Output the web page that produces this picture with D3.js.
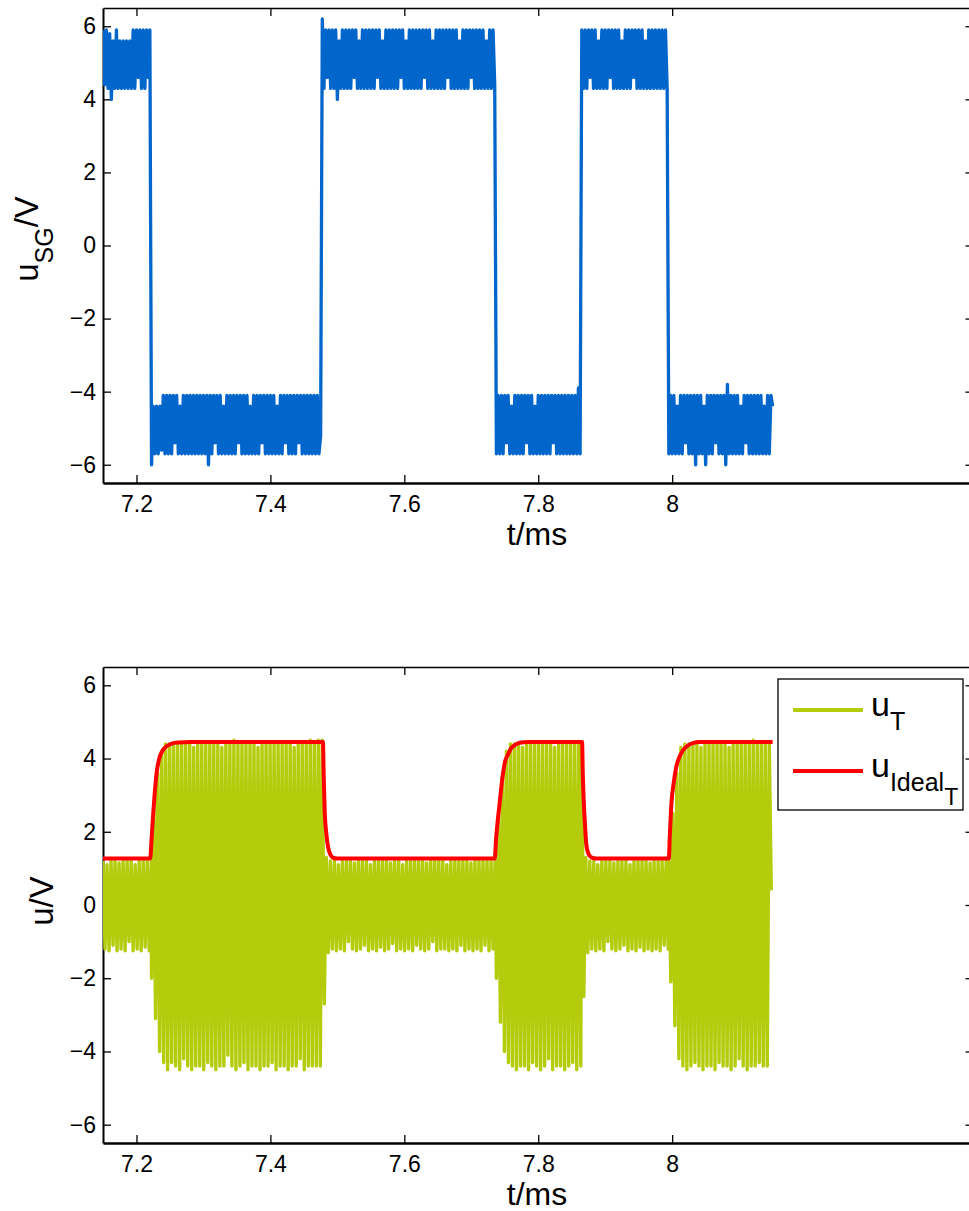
<!DOCTYPE html>
<html>
<head>
<meta charset="utf-8">
<script src="https://cdn.jsdelivr.net/npm/d3@7"></script>
<style>
  body { margin: 0; background: #fff; }
  svg { display: block; font-family: "Liberation Sans", Arial, Helvetica, sans-serif; }
</style>
</head>
<body>
<svg id="chart" width="969" height="1211"></svg>
<script>
// ---- data ----
const xTicks = [7.2, 7.4, 7.6, 7.8, 8];
const yTicks = [-6, -4, -2, 0, 2, 4, 6];

// u_SG: one array per switching state, samples every 2.5 us from each start time
const usgStart = [7.15, 7.2225, 7.4775, 7.7375, 7.865, 7.995];
const usgDt = 0.0025;
const usgHigh1 = [5.9,4.4,5.9,4.3,5.8,4.0,5.6,4.3,5.9,4.3,
  5.6,4.3,5.6,4.3,5.6,4.3,5.6,4.3,5.9,4.3,
  5.9,4.6,5.9,4.3,5.9,4.3,5.9,4.6,5.9];
const usgLow1 = [-6.0,-4.4,-5.7,-4.4,-5.7,-4.4,-5.6,-4.1,-5.7,-4.1,
  -5.7,-4.1,-5.7,-4.1,-5.4,-4.1,-5.7,-4.4,-5.7,-4.1,
  -5.7,-4.1,-5.7,-4.1,-5.7,-4.1,-5.7,-4.1,-5.7,-4.1,
  -5.7,-4.1,-5.7,-4.1,-6.0,-4.1,-5.7,-4.1,-5.4,-4.1,
  -5.7,-4.1,-5.7,-4.4,-5.7,-4.1,-5.7,-4.1,-5.7,-4.1,
  -5.7,-4.1,-5.4,-4.1,-5.7,-4.1,-5.7,-4.1,-5.7,-4.4,
  -5.7,-4.1,-5.7,-4.1,-5.7,-4.1,-5.4,-4.1,-5.7,-4.1,
  -5.7,-4.1,-5.7,-4.1,-5.7,-4.4,-5.7,-4.1,-5.7,-4.1,
  -5.4,-4.1,-5.7,-4.1,-5.7,-4.1,-5.7,-4.1,-5.4,-4.1,
  -5.7,-4.1,-5.7,-4.1,-5.7,-4.1,-5.7,-4.1,-5.7,-4.1,
  -5.7,-5.2];
const usgHigh2 = [6.2,4.3,5.9,4.6,5.9,4.3,5.9,4.3,5.9,4.0,
  5.6,4.3,5.9,4.3,5.9,4.3,5.9,4.3,5.9,4.6,
  5.9,4.3,5.6,4.3,5.9,4.3,5.9,4.3,5.9,4.3,
  5.9,4.3,5.9,4.6,5.9,4.3,5.6,4.3,5.9,4.3,
  5.9,4.3,5.9,4.3,5.9,4.3,5.9,4.6,5.9,4.3,
  5.6,4.3,5.9,4.3,5.9,4.3,5.9,4.3,5.9,4.3,
  5.9,4.6,5.9,4.3,5.9,4.3,5.6,4.3,5.9,4.3,
  5.9,4.3,5.9,4.3,5.9,4.6,5.9,4.3,5.9,4.3,
  5.9,4.3,5.6,4.3,5.9,4.3,5.9,4.3,5.9,4.6,
  5.9,4.3,5.9,4.3,5.9,4.3,5.9,4.3,5.6,4.3,
  5.9,4.3,5.9,4.4];
const usgLow2 = [-5.7,-4.1,-5.7,-4.1,-5.7,-4.1,-5.4,-4.1,-5.7,-4.4,
  -5.7,-4.1,-5.7,-4.1,-5.7,-4.1,-5.7,-4.1,-5.4,-4.1,
  -5.7,-4.1,-5.7,-4.4,-5.7,-4.1,-5.7,-4.1,-5.7,-4.1,
  -5.7,-4.1,-5.7,-4.1,-5.4,-4.1,-5.7,-4.1,-5.7,-4.1,
  -5.7,-4.1,-5.7,-4.1,-5.7,-4.1,-5.7,-4.1,-5.7,-3.9,
  -5.7];
const usgHigh3 = [5.9,4.3,5.9,4.3,5.9,4.6,5.9,4.3,5.9,4.3,
  5.6,4.3,5.9,4.3,5.9,4.3,5.9,4.6,5.9,4.3,
  5.9,4.3,5.9,4.3,5.6,4.3,5.9,4.3,5.9,4.3,
  5.9,4.6,5.9,4.3,5.9,4.3,5.9,4.3,5.6,4.3,
  5.9,4.3,5.9,4.3,5.9,4.3,5.9,4.3,5.9,4.3,
  5.9,4.3];
const usgLow3 = [-5.7,-4.1,-5.7,-4.1,-5.7,-4.4,-5.7,-4.1,-5.7,-4.1,
  -5.4,-4.1,-5.7,-4.1,-5.7,-4.1,-6.0,-4.1,-5.7,-4.1,
  -5.7,-4.4,-6.0,-4.1,-5.7,-4.1,-5.7,-4.1,-5.4,-4.1,
  -5.7,-4.1,-5.7,-4.1,-6.0,-3.8,-5.7,-4.1,-5.7,-4.1,
  -5.7,-4.1,-5.7,-4.4,-5.7,-4.1,-5.4,-4.1,-5.7,-4.1,
  -5.7,-4.1,-5.7,-4.1,-5.7,-4.1,-5.7,-4.4,-5.7,-4.1,
  -5.7,-4.1,-4.4];

// u_T: peaks and troughs every 3 us from each start time
const utStart = [7.15, 7.2225, 7.4775, 7.7375, 7.865, 7.995];
const utDt = 0.003;
const utLow1 = [1.2,-1.2,1.1,-1.25,1.2,-1.1,1.2,-1.25,1.15,-1.2,
  1.2,-1.25,1.2,-1.0,1.2,-1.25,1.1,-1.2,1.2,-1.25,
  1.2,-1.15,1.2,-1.25,1.2];
const utHigh1 = [-2.0,2.6,-3.1,3.6,-4.0,4.2,-4.3,4.4,-4.5,4.4,
  -4.3,4.4,-4.4,4.4,-4.5,4.4,-4.2,4.4,-4.4,4.4,
  -4.5,4.3,-4.4,4.4,-4.4,4.4,-4.5,4.4,-4.3,4.4,
  -4.4,4.4,-4.5,4.4,-4.4,4.3,-4.4,4.4,-4.1,4.4,
  -4.4,4.5,-4.5,4.4,-4.4,4.4,-4.3,4.4,-4.5,4.4,
  -4.4,4.4,-4.4,4.3,-4.5,4.4,-4.4,4.4,-4.4,4.4,
  -4.3,4.4,-4.5,4.4,-4.4,4.4,-4.4,4.4,-4.5,4.4,
  -4.4,4.3,-4.4,4.4,-4.2,4.4,-4.5,4.4,-4.4,4.5,
  -4.4,4.4,-4.4,4.5,-4.4];
const utLow2 = [4.5,-2.7,1.3,-1.3,1.2,-1.2,1.2,-1.25,1.1,-1.2,
  1.2,-1.25,1.2,-1.0,1.2,-1.2,1.15,-1.25,1.2,-1.2,
  1.2,-1.1,1.2,-1.25,1.1,-1.2,1.2,-1.25,1.2,-1.15,
  1.2,-1.25,1.2,-1.2,1.15,-1.05,1.2,-1.25,1.2,-1.2,
  1.1,-1.25,1.2,-1.2,1.2,-1.25,1.2,-1.1,1.2,-1.2,
  1.2,-1.25,1.15,-1.2,1.2,-1.0,1.2,-1.25,1.2,-1.2,
  1.2,-1.2,1.1,-1.25,1.2,-1.2,1.2,-1.25,1.2,-1.1,
  1.2,-1.25,1.2,-1.2,1.15,-1.25,1.2,-1.2,1.2,-1.25,
  1.2,-1.1,1.2,-1.25,1.2,-1.2,1.2];
const utHigh2 = [-2.0,2.4,-3.2,3.5,-4.0,4.2,-4.3,4.4,-4.4,4.4,
  -4.5,4.4,-4.4,4.3,-4.4,4.4,-4.5,4.4,-4.3,4.4,
  -4.4,4.4,-4.5,4.4,-4.4,4.4,-4.2,4.4,-4.5,4.3,
  -4.4,4.4,-4.4,4.4,-4.5,4.4,-4.4,4.4,-4.3,4.4,
  -4.5,4.4,-4.4];
const utLow3 = [4.4,-2.5,1.3,-1.3,1.2,-1.2,1.2,-1.25,1.1,-1.2,
  1.2,-1.25,1.2,-1.0,1.2,-1.2,1.15,-1.25,1.2,-1.2,
  1.2,-1.1,1.2,-1.25,1.1,-1.2,1.2,-1.25,1.2,-1.15,
  1.2,-1.25,1.2,-1.2,1.15,-1.25,1.2,-1.2,1.2,-1.25,
  1.2,-1.1,1.2,-1.2];
const utHigh3 = [1.2,-2.1,2.5,-3.3,3.6,-4.2,4.3,-4.4,4.4,-4.5,
  4.4,-4.4,4.4,-4.3,4.4,-4.4,4.3,-4.5,4.4,-4.4,
  4.4,-4.4,4.4,-4.5,4.4,-4.3,4.4,-4.4,4.4,-4.4,
  4.3,-4.5,4.4,-4.4,4.4,-4.2,4.4,-4.4,4.4,-4.5,
  4.4,-4.4,4.5,-4.4,4.4,-4.3,4.4,-4.4,4.4,-4.4,
  4.4,0.4];

// u_Ideal_T: the red reference curve
const idealTime = [7.15, 7.2205, 7.2225, 7.2245, 7.227, 7.230, 7.234, 7.2395, 7.246, 7.2525, 7.262, 7.28,
  7.4785, 7.4795, 7.481, 7.4835, 7.4865, 7.490, 7.4935, 7.50,
  7.735, 7.737, 7.7395, 7.7425, 7.746, 7.75, 7.755, 7.76, 7.766, 7.7725, 7.785,
  7.8655, 7.8665, 7.868, 7.8695, 7.8715, 7.874, 7.877, 7.8805, 7.887,
  7.995, 7.9965, 7.999, 8.002, 8.0065, 8.011, 8.016, 8.023, 8.031, 8.04, 8.15];
const idealValue = [1.27, 1.27, 1.8, 2.35, 3.0, 3.6, 4.0, 4.23, 4.35, 4.41, 4.44, 4.45,
  4.45, 3.6, 2.6, 1.95, 1.55, 1.36, 1.29, 1.27,
  1.27, 1.8, 2.3, 2.8, 3.4, 3.88, 4.12, 4.29, 4.38, 4.43, 4.45,
  4.45, 3.6, 2.8, 2.3, 1.7, 1.45, 1.34, 1.29, 1.27,
  1.27, 1.9, 2.8, 3.3, 3.8, 4.05, 4.22, 4.35, 4.42, 4.45, 4.45];

// ---- drawing ----
const blue = "#0066cc", green = "#b4cc0c", red = "#ff0000";

const svg = d3.select("#chart");
const x = d3.scaleLinear().domain([7.15, 8.45]).range([103, 973.5]);

function samples(starts, segs, dt) {
  const pts = [];
  segs.forEach((seg, k) => seg.forEach((v, i) => pts.push([starts[k] + i * dt, v])));
  return pts;
}

function panel(top, bottom, id) {
  const y = d3.scaleLinear().domain([-6.5, 6.5]).range([bottom, top]);
  const g = svg.append("g");

  svg.append("clipPath").attr("id", id)
    .append("rect")
    .attr("x", x.range()[0]).attr("y", top)
    .attr("width", x.range()[1] - x.range()[0]).attr("height", bottom - top);

  const fmt = d3.format("~g");
  g.append("g").attr("transform", "translate(0," + bottom + ")")
    .call(d3.axisBottom(x).tickValues(xTicks).tickFormat(fmt).tickSizeInner(-8).tickSizeOuter(0).tickPadding(13))
    .call(a => a.select(".domain").attr("stroke-width", 2.5));
  g.append("g").attr("transform", "translate(0," + top + ")")
    .call(d3.axisTop(x).tickValues(xTicks).tickFormat("").tickSizeInner(-8).tickSizeOuter(0))
    .call(a => a.select(".domain").attr("stroke-width", 1.5));
  g.append("g").attr("transform", "translate(" + x.range()[0] + ",0)")
    .call(d3.axisLeft(y).tickValues(yTicks).tickFormat(fmt).tickSizeInner(-8).tickSizeOuter(0).tickPadding(7))
    .call(a => a.select(".domain").attr("stroke-width", 2));
  g.append("g").attr("transform", "translate(" + x.range()[1] + ",0)")
    .call(d3.axisRight(y).tickValues(yTicks).tickFormat("").tickSizeInner(-8).tickSizeOuter(0))
    .call(a => a.select(".domain").attr("stroke-width", 2));

  g.selectAll(".tick text").attr("font-size", 23).attr("fill", "#000")
    .attr("font-family", "Liberation Sans, Arial, sans-serif");
  g.selectAll(".tick line").attr("stroke-width", 1.3);

  g.append("text")
    .attr("x", 537).attr("y", bottom + 62)
    .attr("text-anchor", "middle").attr("font-size", 32)
    .text("t/ms");

  return { y, g };
}

// top panel: u_SG
const p1 = panel(8, 483, "clip1");
const usgPts = samples(usgStart, [usgHigh1, usgLow1, usgHigh2, usgLow2, usgHigh3, usgLow3], usgDt);
svg.append("path")
  .datum(usgPts)
  .attr("clip-path", "url(#clip1)")
  .attr("fill", "none").attr("stroke", blue).attr("stroke-width", 3.3)
  .attr("stroke-linejoin", "round")
  .attr("d", d3.line().x(d => x(d[0])).y(d => p1.y(d[1])));

const yl1 = svg.append("text")
  .attr("transform", "translate(38,239) rotate(-90)")
  .attr("text-anchor", "middle").attr("font-size", 33);
yl1.append("tspan").text("u");
yl1.append("tspan").attr("font-size", 25).attr("dy", 15).text("SG");
yl1.append("tspan").attr("dy", -15).text("/V");

// bottom panel: u_T and ideal
const p2 = panel(667, 1143, "clip2");
const utPts = samples(utStart, [utLow1, utHigh1, utLow2, utHigh2, utLow3, utHigh3], utDt);
svg.append("path")
  .datum(utPts)
  .attr("clip-path", "url(#clip2)")
  .attr("fill", "none").attr("stroke", green).attr("stroke-width", 3.4)
  .attr("stroke-linejoin", "round")
  .attr("d", d3.line().x(d => x(d[0])).y(d => p2.y(d[1])));

svg.append("path")
  .datum(d3.zip(idealTime, idealValue))
  .attr("clip-path", "url(#clip2)")
  .attr("fill", "none").attr("stroke", red).attr("stroke-width", 4)
  .attr("stroke-linejoin", "round")
  .attr("d", d3.line().curve(d3.curveMonotoneX).x(d => x(d[0])).y(d => p2.y(d[1])));

const yl2 = svg.append("text")
  .attr("transform", "translate(53,901) rotate(-90)")
  .attr("text-anchor", "middle").attr("font-size", 33);
yl2.append("tspan").text("u/V");

// legend
const lg = svg.append("g");
lg.append("rect")
  .attr("x", 778).attr("y", 679).attr("width", 185).attr("height", 131)
  .attr("fill", "#fff").attr("stroke", "#000").attr("stroke-width", 1.3);
const entries = [
  { color: green, y: 710, base: "u", subs: ["T"] },
  { color: red, y: 771, base: "u", subs: ["Ideal", "T"] }
];
entries.forEach(e => {
  lg.append("line")
    .attr("x1", 793).attr("x2", 863).attr("y1", e.y).attr("y2", e.y)
    .attr("stroke", e.color).attr("stroke-width", 4);
  const t = lg.append("text").attr("x", 871).attr("y", e.y + 6).attr("font-size", 34);
  t.append("tspan").text(e.base);
  e.subs.forEach((s, i) => {
    t.append("tspan").attr("font-size", i === 0 ? 25 : 23).attr("dy", 14).text(s);
  });
});
</script>
</body>
</html>
